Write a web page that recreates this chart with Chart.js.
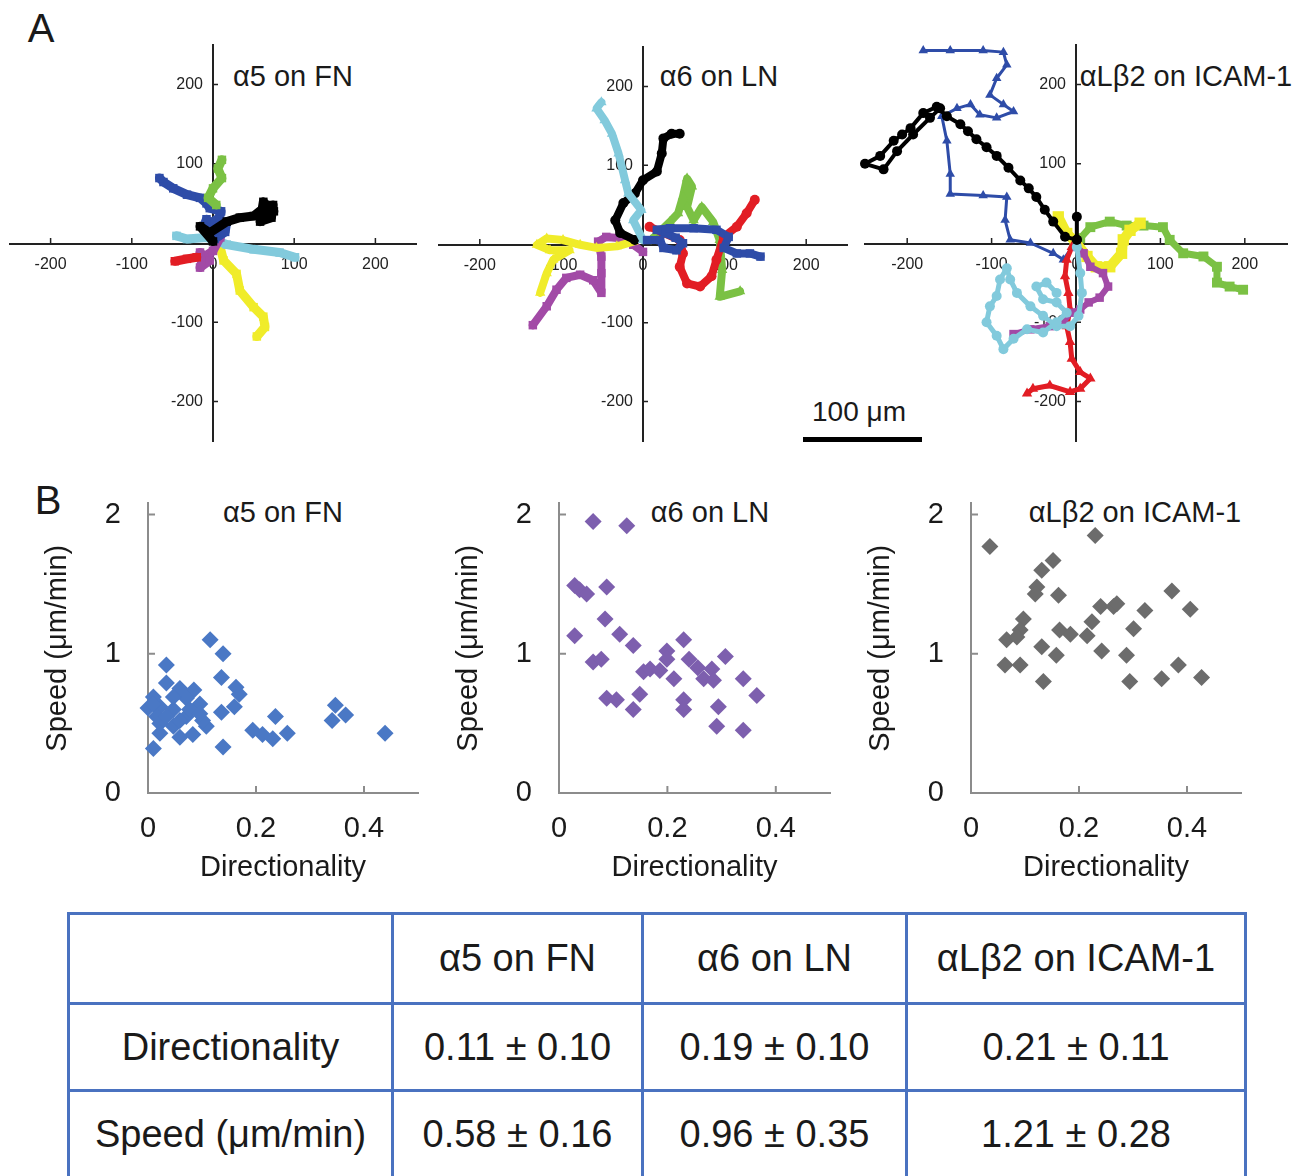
<!DOCTYPE html>
<html>
<head>
<meta charset="utf-8">
<script src="https://cdn.jsdelivr.net/npm/chart.js@4.4.1/dist/chart.umd.min.js"></script>
<style>
	body { margin: 0; width: 1301px; height: 1176px; overflow: hidden; background: #fff; font-family: "Liberation Sans", Arial, sans-serif; color: #1a1a1a; position: relative; }
	canvas { position: absolute; }
	.lbl { position: absolute; transform: translate(-50%, -50%); line-height: 1; white-space: nowrap; }
	.t29 { font-size: 29px; }
	.big { font-size: 40px; }
	#bar { position: absolute; left: 803px; top: 437px; width: 119px; height: 5px; background: #000; }
	#stats { position: absolute; left: 67px; top: 912px; border-collapse: collapse; table-layout: fixed; font-size: 38px; }
	#stats td { border: 3px solid #4a72c0; text-align: center; padding: 0; color: #1a1a1a; }
</style>
</head>
<body>

<div class="lbl big" style="left:41px; top:28px;">A</div>
<div class="lbl big" style="left:48px; top:500px;">B</div>

<div class="lbl t29" style="left:293px; top:76px;">α5 on FN</div>
<div class="lbl t29" style="left:719px; top:76px;">α6 on LN</div>
<div class="lbl t29" style="left:1186px; top:76px;">αLβ2 on ICAM-1</div>
<div class="lbl" style="left:859px; top:412px; font-size:28px;">100 μm</div>
<div id="bar"></div>

<div class="lbl t29" style="left:283px; top:512px;">α5 on FN</div>
<div class="lbl t29" style="left:710px; top:512px;">α6 on LN</div>
<div class="lbl t29" style="left:1135px; top:512px;">αLβ2 on ICAM-1</div>

<canvas id="trackFN" width="446" height="436" style="left:-10px; top:25px;"></canvas>
<canvas id="trackLN" width="448" height="434" style="left:419px; top:27px;"></canvas>
<canvas id="trackICAM" width="462" height="436" style="left:845px; top:25px;"></canvas>

<canvas id="speedFN" width="388" height="427" style="left:40px; top:459px;"></canvas>
<canvas id="speedLN" width="389" height="427" style="left:451px; top:459px;"></canvas>
<canvas id="speedICAM" width="388" height="427" style="left:863px; top:459px;"></canvas>

<table id="stats">
	<colgroup><col style="width:324px"><col style="width:250px"><col style="width:264px"><col style="width:339px"></colgroup>
	<tr style="height:90px"><td></td><td>α5 on FN</td><td>α6 on LN</td><td>αLβ2 on ICAM-1</td></tr>
	<tr style="height:87px"><td>Directionality</td><td>0.11 ± 0.10</td><td>0.19 ± 0.10</td><td>0.21 ± 0.11</td></tr>
	<tr style="height:87px"><td>Speed (μm/min)</td><td>0.58 ± 0.16</td><td>0.96 ± 0.35</td><td>1.21 ± 0.28</td></tr>
</table>

<script>
// tick labels
var trackXTicks = [-200, -100, 0, 100, 200];
var trackYTicks = [-200, -100, 100, 200];
var dirTicks = [0, 0.2, 0.4];
var speedTicks = [0, 1, 2];

// cell tracks, um (x, y) - alpha5 on FN
var fnBlack = [[0, 2], [-16, 21], [-4, 13], [17, 27], [33, 32], [50, 34], [62, 44], [74, 48], [72, 32], [58, 27], [62, 52], [75, 40], [66, 36]];
var fnBlue = [[2, 5], [15, 14], [17, 27], [4, 19], [-8, 30], [-12, 20], [8, 32], [10, 40], [-4, 44], [-8, 50], [-16, 57], [-32, 61], [-49, 69], [-61, 77], [-66, 82]];
var fnGreen = [[4, 48], [-6, 57], [0, 69], [11, 82], [6, 94], [11, 105]];
var fnCyan = [[-45, 9], [-32, 5], [-8, 7], [17, -2], [50, -8], [82, -12], [101, -18]];
var fnRed = [[-20, -18], [-32, -20], [-47, -23]];
var fnMagenta = [[9, 7], [0, -10], [-12, -18], [-16, -31], [-4, -22], [-16, -12]];
var fnYellow = [[9, -6], [13, -22], [29, -39], [33, -60], [50, -81], [62, -93], [64, -106], [54, -118]];

// alpha6 on LN
var lnCyan = [[0, 5], [-12, 30], [-2, 43], [-18, 64], [-22, 81], [-30, 115], [-38, 140], [-47, 157], [-57, 172], [-51, 180]];
var lnBlack = [[-10, 5], [-28, 14], [-34, 30], [-24, 52], [-10, 64], [0, 81], [17, 92], [23, 115], [25, 134], [35, 140], [45, 140]];
var lnGreen = [[10, 5], [33, 28], [43, 39], [49, 60], [54, 83], [60, 73], [54, 47], [62, 30], [72, 47], [86, 28], [94, 5], [97, -33], [94, -67], [119, -60]];
var lnRed = [[8, 22], [25, 14], [45, 5], [49, -12], [45, -29], [54, -50], [70, -54], [84, -41], [90, -20], [99, 9], [115, 22], [127, 39], [137, 56]];
var lnBlue = [[5, 5], [21, 5], [25, -5], [41, -8], [49, 1], [40, 8], [17, 18], [33, 20], [62, 20], [90, 18], [105, 9], [99, -5], [115, -12], [131, -12], [144, -16]];
var lnYellow = [[-12, 3], [-32, -3], [-57, -5], [-77, -1], [-98, 5], [-118, 7], [-130, -1], [-114, -8], [-90, -8], [-110, -20], [-118, -37], [-126, -62]];
var lnMagenta = [[0, -10], [-12, -1], [-24, 7], [-45, 9], [-55, 3], [-51, -16], [-51, -37], [-51, -62], [-61, -46], [-77, -39], [-94, -43], [-106, -58], [-118, -79], [-135, -103]];

// alphaL beta2 on ICAM-1
var icamBlack = [[1, 4], [1, 33], [1, 4], [-13, 8], [-27, 27], [-37, 42], [-47, 58], [-56, 69], [-66, 79], [-80, 95], [-94, 110], [-106, 121], [-118, 131], [-128, 141], [-137, 150], [-153, 160], [-165, 172], [-181, 164], [-196, 145], [-206, 137], [-216, 129], [-232, 110], [-250, 100], [-228, 93], [-212, 116], [-193, 137], [-173, 158], [-161, 170]];
var icamBlue = [[-3, -3], [-15, -21], [-27, -13], [-54, 0], [-78, 4], [-84, 29], [-82, 58], [-110, 60], [-149, 62], [-149, 87], [-153, 129], [-159, 160], [-141, 170], [-125, 175], [-114, 162], [-94, 158], [-74, 166], [-86, 175], [-102, 187], [-94, 208], [-82, 225], [-86, 241], [-110, 243], [-149, 243], [-181, 243]];
var icamGreen = [[5, 6], [17, 20], [40, 27], [60, 22], [80, 22], [103, 20], [111, 4], [127, -13], [151, -17], [167, -30], [167, -50], [182, -55], [198, -59]];
var icamYellow = [[-21, 33], [-11, 12], [-1, 2], [13, -17], [24, -30], [40, -30], [54, -13], [56, 4], [64, 16], [76, 25]];
var icamMagenta = [[1, -5], [9, -13], [17, -30], [32, -38], [38, -55], [28, -69], [15, -75], [5, -84], [-7, -88], [-15, -100], [-31, -105], [-54, -109], [-74, -115]];
var icamCyan = [[1, -5], [5, -38], [7, -63], [3, -92], [-7, -105], [-23, -105], [-39, -92], [-54, -80], [-70, -63], [-78, -46], [-82, -32], [-90, -46], [-94, -67], [-102, -80], [-106, -100], [-94, -117], [-86, -134], [-74, -121], [-58, -109], [-39, -113], [-23, -100], [-11, -88], [-23, -75], [-39, -71], [-47, -55], [-35, -50], [-23, -63]];
var icamRed = [[-5, -5], [-11, -21], [-13, -42], [-9, -63], [-7, -84], [-11, -105], [-7, -125], [-5, -146], [5, -163], [17, -171], [5, -184], [-7, -188], [-31, -180], [-51, -184], [-58, -190]];

// directionality vs speed (um/min)
var fnDir = [0.115, 0.139, 0.034, 0.136, 0.034, 0.059, 0.085, 0.163, 0.169, 0.160, 0.136, 0.071, 0.096, 0.010, 0.000, 0.022, 0.047, 0.071, 0.022, 0.047, 0.022, 0.059, 0.083, 0.108, 0.101, 0.077, 0.016, 0.010, 0.139, 0.194, 0.212, 0.231, 0.258, 0.236, 0.341, 0.347, 0.366, 0.439, 0.034, 0.059, 0.096, 0.010, 0.047];
var fnSpeed = [1.10, 1.00, 0.92, 0.83, 0.79, 0.75, 0.74, 0.76, 0.71, 0.62, 0.58, 0.68, 0.64, 0.69, 0.61, 0.62, 0.60, 0.55, 0.50, 0.48, 0.43, 0.40, 0.42, 0.48, 0.52, 0.60, 0.55, 0.32, 0.33, 0.45, 0.42, 0.39, 0.43, 0.55, 0.52, 0.63, 0.56, 0.43, 0.55, 0.52, 0.57, 0.64, 0.69];
var lnDir = [0.063, 0.125, 0.029, 0.038, 0.051, 0.088, 0.085, 0.029, 0.112, 0.137, 0.063, 0.078, 0.088, 0.106, 0.137, 0.149, 0.156, 0.168, 0.186, 0.199, 0.199, 0.212, 0.230, 0.240, 0.256, 0.267, 0.282, 0.285, 0.230, 0.230, 0.294, 0.291, 0.307, 0.340, 0.365, 0.340];
var lnSpeed = [1.95, 1.92, 1.49, 1.46, 1.43, 1.48, 1.25, 1.13, 1.14, 1.06, 0.94, 0.96, 0.68, 0.67, 0.60, 0.71, 0.87, 0.89, 0.88, 1.02, 0.96, 0.82, 1.10, 0.96, 0.90, 0.82, 0.89, 0.81, 0.67, 0.60, 0.62, 0.48, 0.98, 0.82, 0.70, 0.45];
var icamDir = [0.035, 0.230, 0.152, 0.131, 0.122, 0.119, 0.162, 0.097, 0.091, 0.066, 0.085, 0.063, 0.091, 0.131, 0.158, 0.134, 0.164, 0.184, 0.215, 0.224, 0.240, 0.264, 0.270, 0.242, 0.288, 0.301, 0.322, 0.294, 0.353, 0.372, 0.384, 0.406, 0.427];
var icamSpeed = [1.77, 1.85, 1.67, 1.60, 1.48, 1.43, 1.42, 1.25, 1.17, 1.10, 1.12, 0.92, 0.92, 1.05, 0.99, 0.80, 1.17, 1.14, 1.13, 1.23, 1.34, 1.34, 1.36, 1.02, 0.99, 1.18, 1.31, 0.80, 0.82, 1.45, 0.92, 1.32, 0.83];

var FONT = '"Liberation Sans", Arial, sans-serif';
var C = {
	black: '#000000', blue: '#2e4ca8', green: '#7bc144', cyan: '#82cadc',
	red: '#e21d24', magenta: '#a24aa6', yellow: '#f0ec2a'
};

// small tick marks pointing into the plot
var innerTicks = {
	id: 'innerTicks',
	beforeDatasetsDraw: function (chart, args, opts) {
		var ctx = chart.ctx, xs = chart.scales.x, ys = chart.scales.y;
		var x0 = xs.getPixelForValue(0), y0 = ys.getPixelForValue(0);
		ctx.save();
		ctx.strokeStyle = opts.color;
		ctx.lineWidth = opts.width;
		ctx.beginPath();
		xs.ticks.forEach(function (t) {
			if (t.value === 0) return;
			var px = xs.getPixelForValue(t.value);
			ctx.moveTo(px, y0);
			ctx.lineTo(px, y0 - opts.len);
		});
		ys.ticks.forEach(function (t) {
			if (t.value === 0) return;
			var py = ys.getPixelForValue(t.value);
			ctx.moveTo(x0, py);
			ctx.lineTo(x0 + opts.len, py);
		});
		ctx.stroke();
		ctx.restore();
	}
};

function setTicks(list) {
	return function (scale) {
		scale.ticks = list.map(function (v) { return {value: v}; });
	};
}

function trackChart(id, tracks, lineWidth) {
	var datasets = tracks.map(function (t) {
		return {
			data: t.pts.map(function (p) { return {x: p[0], y: p[1]}; }),
			showLine: true,
			borderColor: t.color,
			backgroundColor: t.color,
			pointBackgroundColor: t.color,
			pointBorderWidth: 0,
			borderWidth: t.w || lineWidth,
			pointRadius: t.r,
			pointStyle: t.shape,
			borderJoinStyle: 'round',
			borderCapStyle: 'round',
			tension: 0,
			clip: false
		};
	});
	var tickFont = {family: FONT, size: 16};
	return new Chart(document.getElementById(id), {
		type: 'scatter',
		data: {datasets: datasets},
		plugins: [innerTicks],
		options: {
			responsive: false,
			animation: false,
			devicePixelRatio: 1,
			events: [],
			layout: {padding: 20},
			plugins: {
				legend: {display: false},
				tooltip: {enabled: false},
				innerTicks: {color: '#222', width: 1.5, len: 5}
			},
			scales: {
				x: {
					type: 'linear', position: 'center', min: -250, max: 250,
					afterBuildTicks: setTicks(trackXTicks),
					grid: {drawOnChartArea: false, drawTicks: false},
					border: {color: '#222', width: 2},
					ticks: {font: tickFont, color: '#222', padding: 12, autoSkip: false, maxRotation: 0,
						callback: function (v) { return String(v); }}
				},
				y: {
					type: 'linear', position: 'center', min: -250, max: 250,
					afterBuildTicks: setTicks(trackYTicks),
					grid: {drawOnChartArea: false, drawTicks: false},
					border: {color: '#222', width: 2},
					ticks: {font: tickFont, color: '#222', padding: 10, autoSkip: false,
						callback: function (v) { return String(v); }}
				}
			}
		}
	});
}

function speedChart(id, dir, speed, color) {
	var big = {family: FONT, size: 29};
	return new Chart(document.getElementById(id), {
		type: 'scatter',
		data: {
			datasets: [{
				data: dir.map(function (d, i) { return {x: d, y: speed[i]}; }),
				pointStyle: 'rectRot',
				pointRadius: 8.5,
				pointBackgroundColor: color,
				pointBorderWidth: 0,
				clip: false
			}]
		},
		plugins: [innerTicks],
		options: {
			responsive: false,
			animation: false,
			devicePixelRatio: 1,
			events: [],
			layout: {padding: {top: 0, right: 10, left: 0, bottom: 0}},
			plugins: {
				legend: {display: false},
				tooltip: {enabled: false},
				innerTicks: {color: '#8c8c8c', width: 2, len: 7}
			},
			scales: {
				x: {
					type: 'linear', min: 0, max: 0.5,
					afterBuildTicks: setTicks(dirTicks),
					afterFit: function (s) { s.height = 93; },
					grid: {drawOnChartArea: false, drawTicks: false},
					border: {color: '#8c8c8c', width: 2},
					ticks: {font: big, color: '#1a1a1a', padding: 19, autoSkip: false, maxRotation: 0,
						callback: function (v) { return String(v); }},
					title: {display: true, text: 'Directionality', font: big, color: '#1a1a1a', padding: {top: 0, bottom: 1}}
				},
				y: {
					type: 'linear', min: 0, max: 2.08,
					afterBuildTicks: setTicks(speedTicks),
					afterFit: function (s) { s.width = 108; },
					grid: {drawOnChartArea: false, drawTicks: false},
					border: {color: '#8c8c8c', width: 2},
					ticks: {font: big, color: '#1a1a1a', padding: 27, autoSkip: false,
						callback: function (v) { return String(v); }},
					title: {display: true, text: 'Speed (μm/min)', font: big, color: '#1a1a1a', padding: {top: 1, bottom: 0}}
				}
			}
		}
	});
}

trackChart('trackFN', [
	{pts: fnGreen, color: C.green, shape: 'rect', r: 6},
	{pts: fnBlack, color: C.black, shape: 'rect', r: 6},
	{pts: fnBlue, color: C.blue, shape: 'rect', r: 6},
	{pts: fnRed, color: C.red, shape: 'rect', r: 6},
	{pts: fnMagenta, color: C.magenta, shape: 'rect', r: 6},
	{pts: fnCyan, color: C.cyan, shape: 'rect', r: 6},
	{pts: fnYellow, color: C.yellow, shape: 'rect', r: 6}
], 9);

trackChart('trackLN', [
	{pts: lnBlue, color: C.blue, shape: 'rect', r: 6},
	{pts: lnCyan, color: C.cyan, shape: 'triangle', r: 6},
	{pts: lnBlack, color: C.black, shape: 'circle', r: 5},
	{pts: lnRed, color: C.red, shape: 'circle', r: 5},
	{pts: lnGreen, color: C.green, shape: 'triangle', r: 6},
	{pts: lnYellow, color: C.yellow, shape: 'triangle', r: 6},
	{pts: lnMagenta, color: C.magenta, shape: 'rect', r: 6}
], 8);

trackChart('trackICAM', [
	{pts: icamBlack, color: C.black, shape: 'circle', r: 5, w: 4},
	{pts: icamCyan, color: C.cyan, shape: 'circle', r: 5, w: 5},
	{pts: icamMagenta, color: C.magenta, shape: 'rect', r: 6, w: 6},
	{pts: icamRed, color: C.red, shape: 'triangle', r: 6, w: 5},
	{pts: icamYellow, color: C.yellow, shape: 'rect', r: 8, w: 10},
	{pts: icamGreen, color: C.green, shape: 'rect', r: 7, w: 7},
	{pts: icamBlue, color: C.blue, shape: 'triangle', r: 5.5, w: 3}
], 4);

speedChart('speedFN', fnDir, fnSpeed, '#4a78c5');
speedChart('speedLN', lnDir, lnSpeed, '#7d5fae');
speedChart('speedICAM', icamDir, icamSpeed, '#6c6c6c');
</script>
</body>
</html>
